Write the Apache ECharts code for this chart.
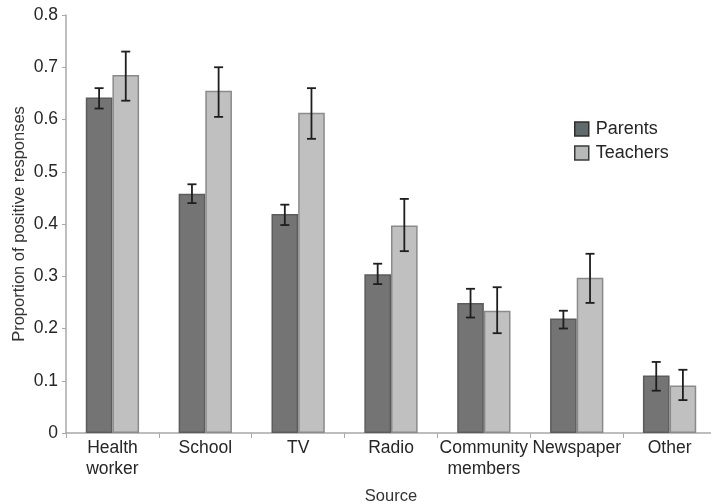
<!DOCTYPE html>
<html>
<head>
<meta charset="utf-8">
<script src="https://cdn.jsdelivr.net/npm/echarts@6/dist/echarts.min.js"></script>
<style>
  html, body { margin: 0; padding: 0; background: #fff; }
  #chart { width: 711px; height: 504px; }
</style>
</head>
<body>
<div id="chart"></div>
<script>
// Sources of information and mean proportions with error ranges
const categories = ['Health\nworker', 'School', 'TV', 'Radio', 'Community\nmembers', 'Newspaper', 'Other'];
const parents = [0.642, 0.458, 0.419, 0.304, 0.249, 0.219, 0.110];
const parentsLow = [0.621, 0.440, 0.398, 0.285, 0.221, 0.200, 0.081];
const parentsHigh = [0.660, 0.476, 0.437, 0.324, 0.276, 0.234, 0.136];
const teachers = [0.685, 0.655, 0.613, 0.397, 0.234, 0.297, 0.091];
const teachersLow = [0.636, 0.605, 0.563, 0.348, 0.191, 0.249, 0.063];
const teachersHigh = [0.730, 0.700, 0.660, 0.448, 0.279, 0.343, 0.121];
const yTicks = { min: 0, max: 0.8, interval: 0.1 };

const BAR_FRAC = 0.287; // bar width as a share of the category band

function errorSeries(low, high, side) {
  return {
    type: 'custom',
    data: categories.map((c, i) => [i, low[i], high[i]]),
    z: 10,
    silent: true,
    renderItem: function (params, api) {
      const idx = api.value(0);
      const band = api.size([1, 0])[0];
      const off = side * band * BAR_FRAC / 2;
      const lo = api.coord([idx, api.value(1)]);
      const hi = api.coord([idx, api.value(2)]);
      const x = lo[0] + off;
      const cap = 4.5;
      const style = { stroke: '#1e1e1e', lineWidth: 1.8 };
      return {
        type: 'group',
        children: [
          { type: 'line', shape: { x1: x, y1: lo[1], x2: x, y2: hi[1] }, style: style },
          { type: 'line', shape: { x1: x - cap, y1: lo[1], x2: x + cap, y2: lo[1] }, style: style },
          { type: 'line', shape: { x1: x - cap, y1: hi[1], x2: x + cap, y2: hi[1] }, style: style }
        ]
      };
    }
  };
}

const chart = echarts.init(document.getElementById('chart'), null, { renderer: 'canvas' });
chart.setOption({
  animation: false,
  backgroundColor: '#ffffff',
  textStyle: { fontFamily: 'Liberation Sans, Arial, sans-serif' },
  grid: { left: 66, right: -5, top: 15, bottom: 71, containLabel: false, outerBoundsMode: 'none' },
  legend: {
    orient: 'vertical',
    left: 574,
    top: 120,
    padding: 0,
    itemWidth: 14,
    itemHeight: 14,
    itemGap: 6,
    textStyle: { fontSize: 18, color: '#262626', padding: [0, 0, 0, 2] },
    data: [
      { name: 'Parents', icon: 'rect', itemStyle: { color: '#5f6b6a', borderColor: '#2e2e2e', borderWidth: 1.5 } },
      { name: 'Teachers', icon: 'rect', itemStyle: { color: '#b6b9b8', borderColor: '#3a3a3a', borderWidth: 1.5 } }
    ]
  },
  xAxis: {
    type: 'category',
    data: categories,
    name: 'Source',
    nameLocation: 'middle',
    nameGap: 55,
    nameMoveOverlap: false,
    nameTextStyle: { fontSize: 16.5, color: '#333' },
    axisLine: { lineStyle: { color: '#a8a8a8', width: 1.5 } },
    axisTick: { show: true, length: 5, lineStyle: { color: '#a8a8a8' } },
    axisLabel: { fontSize: 17.5, color: '#262626', margin: 5, lineHeight: 21, interval: 0 }
  },
  yAxis: {
    type: 'value',
    min: yTicks.min,
    max: yTicks.max,
    interval: yTicks.interval,
    name: 'Proportion of positive responses',
    nameLocation: 'middle',
    nameGap: 38,
    nameMoveOverlap: false,
    nameTextStyle: { fontSize: 16.5, color: '#333' },
    axisLine: { show: true, lineStyle: { color: '#a8a8a8', width: 1.5 } },
    axisTick: { show: true, length: 4, lineStyle: { color: '#a8a8a8' } },
    axisLabel: { fontSize: 17.5, color: '#262626', margin: 8 },
    splitLine: { show: false }
  },
  series: [
    {
      name: 'Parents',
      type: 'bar',
      data: parents,
      barWidth: (BAR_FRAC * 100) + '%',
      barGap: '0%',
      itemStyle: { color: '#747474', borderColor: '#5c5c5c', borderWidth: 1.5 }
    },
    {
      name: 'Teachers',
      type: 'bar',
      data: teachers,
      barWidth: (BAR_FRAC * 100) + '%',
      barGap: '0%',
      itemStyle: { color: '#c0c0c0', borderColor: '#8a8a8a', borderWidth: 1.5 }
    },
    Object.assign(errorSeries(parentsLow, parentsHigh, -1), { name: 'Parents err' }),
    Object.assign(errorSeries(teachersLow, teachersHigh, 1), { name: 'Teachers err' })
  ]
});
</script>
</body>
</html>
